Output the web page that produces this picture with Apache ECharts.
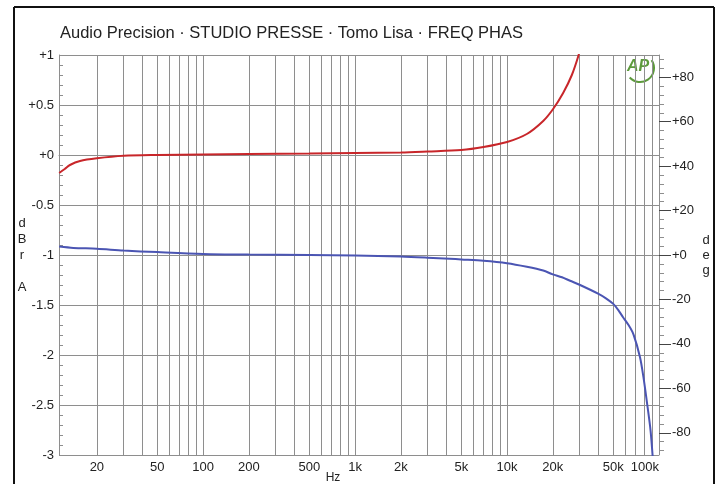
<!DOCTYPE html>
<html>
<head>
<meta charset="utf-8">
<script src="https://cdn.jsdelivr.net/npm/echarts@6/dist/echarts.min.js"></script>
<style>html,body{margin:0;padding:0;background:#fff}#c{width:722px;height:484px}</style>
</head>
<body>
<div id="c"></div>
<script>
// ---- data ----
const titleText = 'Audio Precision \u00b7 STUDIO PRESSE \u00b7 Tomo Lisa \u00b7 FREQ PHAS';
const redFreq = [11.3, 12.3, 13.3, 15.5, 20, 30, 50, 100, 200, 500, 1000, 2000, 3000, 5000, 7000, 10000, 13500, 17300, 20100, 23400, 26700, 29600, 31000];
const redDb   = [-0.18, -0.14, -0.10, -0.06, -0.033, -0.008, 0.0, 0.005, 0.01, 0.015, 0.02, 0.025, 0.035, 0.05, 0.08, 0.13, 0.21, 0.34, 0.46, 0.62, 0.80, 1.0, 1.12];
const blueFreq = [11.3, 14, 20, 30, 50, 100, 200, 500, 1000, 2000, 3000, 4200, 5000, 7000, 10000, 13500, 17300, 20000, 23000, 26000, 30000, 40000, 45000, 50000, 54000, 58000, 63000, 68000, 75000, 79000, 83000, 88000, 92000];
const blueDeg  = [3.8, 3.2, 2.8, 2.0, 1.3, 0.5, 0.2, 0.0, -0.2, -0.7, -1.2, -1.7, -2.0, -2.6, -3.7, -5.3, -7.0, -8.7, -10.0, -11.6, -13.4, -17.5, -19.6, -22.0, -24.8, -28.0, -31.5, -35.8, -46.0, -55.0, -65.5, -79.0, -96.0];
const freqTicks = [20, 50, 100, 200, 500, 1000, 2000, 5000, 10000, 20000, 50000, 100000];
const freqTickLabels = ['20', '50', '100', '200', '500', '1k', '2k', '5k', '10k', '20k', '50k', '100k'];
const freqGrid = [20,30,40,50,60,70,80,90,100,200,300,400,500,600,700,800,900,1000,2000,3000,4000,5000,6000,7000,8000,9000,10000,20000,30000,40000,50000,60000,70000,80000,90000,100000];
const dbTicks = [-3, -2.5, -2, -1.5, -1, -0.5, 0, 0.5, 1];
const dbTickLabels = ['-3', '-2.5', '-2', '-1.5', '-1', '-0.5', '+0', '+0.5', '+1'];
const degTicks = [-80, -60, -40, -20, 0, 20, 40, 60, 80];
const degTickLabels = ['-80', '-60', '-40', '-20', '+0', '+20', '+40', '+60', '+80'];
const degMinor = [];
for (let v = -88; v <= 88; v += 4) degMinor.push(v);

const chart = echarts.init(document.getElementById('c'), null, {renderer: 'canvas'});
const FONT = 'Liberation Sans, Arial, sans-serif';
const GRID = '#8e8e8e';
const TXT = '#222';

const option = {
  animation: false,
  backgroundColor: '#fff',
  textStyle: {fontFamily: FONT},
  grid: {left: 59, right: 63, top: 55, bottom: 29, containLabel: false, outerBoundsMode: 'none'},
  graphic: [
    {type: 'line', shape: {x1: 14, y1: 7, x2: 714, y2: 7}, style: {stroke: '#111', lineWidth: 2}},
    {type: 'line', shape: {x1: 14, y1: 7, x2: 14, y2: 484}, style: {stroke: '#111', lineWidth: 2}},
    {type: 'line', shape: {x1: 714, y1: 7, x2: 714, y2: 484}, style: {stroke: '#111', lineWidth: 2}},
    {type: 'text', left: 60, top: 25, style: {text: titleText, font: '16.5px ' + FONT, fill: TXT}},
    {type: 'arc', shape: {cx: 640, cy: 68, r: 14, startAngle: -0.6, endAngle: 2.4}, style: {stroke: '#5d9a3c', lineWidth: 2, fill: null}},
    {type: 'text', x: 627, y: 59, style: {text: 'AP', font: 'italic bold 16px ' + FONT, fill: '#5d9a3c'}}
  ],
  xAxis: {
    type: 'log', logBase: 10, min: 11.27, max: 100000,
    name: 'Hz', nameLocation: 'middle', nameGap: 17, nameMoveOverlap: false,
    nameTextStyle: {color: TXT, fontSize: 12, padding: [0, 52, 0, 0]},
    axisLine: {show: true, lineStyle: {color: GRID}},
    axisTick: {show: false, customValues: freqGrid},
    splitLine: {show: true, lineStyle: {color: GRID, width: 1}},
    minorTick: {show: false}, minorSplitLine: {show: false},
    axisLabel: {
      customValues: freqTicks, color: TXT, fontSize: 13, margin: 6,
      alignMaxLabel: 'right',
      formatter: v => { const i = freqTicks.findIndex(t => Math.abs(t - v) / t < 1e-6); return i >= 0 ? freqTickLabels[i] : ''; }
    }
  },
  yAxis: [
    {
      type: 'value', min: -3, max: 1, interval: 0.5, position: 'left',
      name: 'd\nB\nr\n\nA', nameLocation: 'middle', nameRotate: 0, nameGap: 37, nameMoveOverlap: false,
      nameTextStyle: {color: TXT, fontSize: 13, lineHeight: 16, align: 'center'},
      axisLine: {show: true, lineStyle: {color: GRID}},
      axisTick: {show: true, inside: true, length: 5, lineStyle: {color: GRID}},
      minorTick: {show: true, splitNumber: 5, length: 4, lineStyle: {color: GRID}},
      splitLine: {show: true, lineStyle: {color: GRID}},
      axisLabel: {
        color: TXT, fontSize: 13, margin: 5,
        formatter: v => { const i = dbTicks.findIndex(t => Math.abs(t - v) < 1e-6); return i >= 0 ? dbTickLabels[i] : ''; }
      }
    },
    {
      type: 'value', min: -90, max: 90, position: 'right',
      axisLine: {show: true, lineStyle: {color: GRID}},
      axisTick: {show: true, customValues: degMinor, length: 5, lineStyle: {color: GRID}},
      axisLabel: {show: false},
      splitLine: {show: false}
    },
    {
      type: 'value', min: -90, max: 90, position: 'right',
      name: 'd\ne\ng', nameLocation: 'middle', nameRotate: 0, nameGap: 47, nameMoveOverlap: false,
      nameTextStyle: {color: TXT, fontSize: 13, lineHeight: 15, align: 'center'},
      axisLine: {show: false},
      axisTick: {show: true, customValues: degTicks, length: 12, lineStyle: {color: '#444'}},
      axisLabel: {
        customValues: degTicks, color: TXT, fontSize: 13, margin: 13,
        formatter: v => { const i = degTicks.findIndex(t => Math.abs(t - v) < 1e-6); return i >= 0 ? degTickLabels[i] : ''; }
      },
      splitLine: {show: false}
    }
  ],
  series: [
    {
      type: 'line', name: 'level', yAxisIndex: 0, showSymbol: false, smooth: 0.3,
      lineStyle: {color: '#c8262a', width: 2}, clip: true,
      data: redFreq.map((f, i) => [f, redDb[i]])
    },
    {
      type: 'line', name: 'phase', yAxisIndex: 1, showSymbol: false, smooth: 0.3,
      lineStyle: {color: '#4b55b3', width: 2}, clip: true,
      data: blueFreq.map((f, i) => [f, blueDeg[i]])
    }
  ]
};
chart.setOption(option);
</script>
</body>
</html>
